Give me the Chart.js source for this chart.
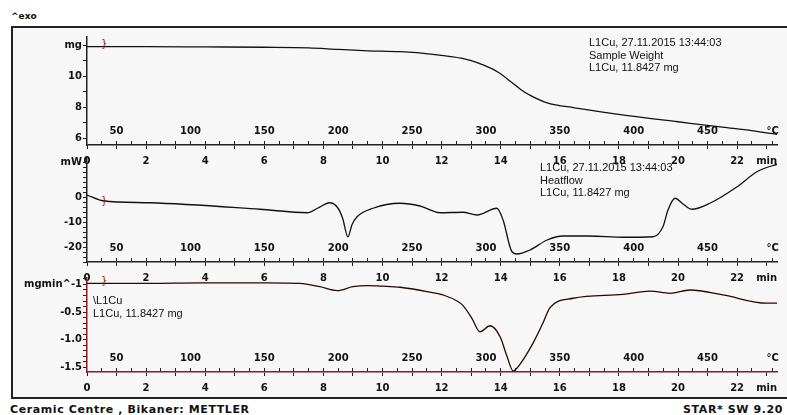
<!DOCTYPE html>
<html>
<head>
<meta charset="utf-8">
<script src="https://cdn.jsdelivr.net/npm/chart.js@4.4.0/dist/chart.umd.min.js"></script>
<style>
  body { margin: 0; width: 787px; height: 415px; overflow: hidden; background: #fff; position: relative; font-family: "DejaVu Sans", sans-serif; }
  #frame { position: absolute; left: 11px; top: 26px; width: 800px; height: 373px; border: 2px solid #222; background: #f7f7f7; box-sizing: border-box; }
  .panel { position: absolute; left: 0; }
  .note { position: absolute; font: 11px "Liberation Sans", sans-serif; line-height: 12.5px; color: #111; white-space: nowrap; }
  .mark { position: absolute; font: 10px "DejaVu Sans", sans-serif; color: #a01010; }
  #exo { position: absolute; left: 11px; top: 11px; font: bold 9px "DejaVu Sans", sans-serif; color: #111; }
  .foot { position: absolute; top: 403px; font: bold 11px "DejaVu Sans", sans-serif; letter-spacing: 0.6px; color: #111; white-space: nowrap; }
</style>
</head>
<body>
<div id="exo">^exo</div>
<div id="frame"></div>
<canvas id="tgaChart" class="panel" width="787" height="144" style="top:25px"></canvas>
<canvas id="dscChart" class="panel" width="787" height="140" style="top:146px"></canvas>
<canvas id="dtgChart" class="panel" width="787" height="130" style="top:266px"></canvas>

<div class="note" style="left:589px; top:36px">L1Cu, 27.11.2015 13:44:03<br>Sample Weight<br>L1Cu, 11.8427 mg</div>
<div class="note" style="left:540px; top:161px">L1Cu, 27.11.2015 13:44:03<br>Heatflow<br>L1Cu, 11.8427 mg</div>
<div class="note" style="left:93px; top:294px">\L1Cu<br>L1Cu, 11.8427 mg</div>
<div class="mark" style="left:101px; top:38px">}</div>
<div class="mark" style="left:101px; top:195px">}</div>
<div class="mark" style="left:101px; top:275px">}</div>

<div class="foot" style="left:10px">Ceramic Centre , Bikaner: METTLER</div>
<div class="foot" style="left:683px">STAR* SW 9.20</div>

<script>
// time axis (min) and temperature axis (°C) share the pixels: 30 °C at 0 min, 20 K/min
const T_START = 30;
const HEAT_RATE = 20;
const TIME_MAX = 23.35;

const timeTicks = [0, 1, 2, 3, 4, 5, 6, 7, 8, 9, 10, 11, 12, 13, 14, 15, 16, 17, 18, 19, 20, 21, 22, 23];
const tempTicks = [40, 50, 60, 70, 80, 90, 100, 110, 120, 130, 140, 150, 160, 170, 180, 190, 200, 210, 220, 230, 240,
  250, 260, 270, 280, 290, 300, 310, 320, 330, 340, 350, 360, 370, 380, 390, 400, 410, 420, 430, 440, 450, 460, 470, 480, 494];
const massTicks = [6, 7, 8, 9, 10, 11, 12];
const heatTicks = [-26, -24, -22, -20, -18, -16, -14, -12, -10, -8, -6, -4, -2, 0, 2, 4, 6, 8, 10, 12, 14];
const rateTicks = [-1.5, -1.4, -1.3, -1.2, -1.1, -1.0, -0.9, -0.8, -0.7, -0.6, -0.5, -0.4, -0.3, -0.2, -0.1, 0, 0.1];

// sample weight, mg
const tgaTime = [0, 2, 4, 6, 7.5, 8.5, 9.5, 10.6, 11.7, 12.7, 13.0, 13.4, 13.9, 14.4, 14.7, 15.0, 15.6, 16.5, 18.3, 20.0, 21.5, 22.5, 23.45];
const tgaMass = [11.9, 11.9, 11.88, 11.86, 11.82, 11.72, 11.63, 11.57, 11.4, 11.14, 10.99, 10.72, 10.26, 9.55, 9.1, 8.75, 8.25, 7.95, 7.45, 7.05, 6.7, 6.48, 6.2];

// heat flow, mW
const dscTime = [0, 0.54, 2.13, 5.85, 7.45, 7.8, 8.22, 8.49, 8.65, 8.83, 8.97, 9.14, 9.68, 10.59, 11.27, 11.95, 12.72, 13.2, 13.87,
  14.08, 14.38, 14.55, 14.99, 15.57, 16.1, 17.0, 18.14, 19.15, 19.49, 19.66, 19.9, 20.17, 20.47, 21.08, 22.0, 22.67, 23.45];
const dscFlow = [0.8, -1.5, -2.3, -4.9, -6.3, -4.5, -2.3, -4.4, -8.5, -15.9, -11, -7.9, -4.5, -2.5, -3.6, -6.3, -6.1, -7.2, -4.5,
  -9.2, -21.9, -22.8, -21.2, -17.2, -15.6, -15.6, -16.1, -15.9, -11.9, -5.2, -0.5, -2.8, -4.9, -2.5, 4.1, 10.1, 13.5];

// first derivative, mg/min
const dtgTime = [0, 2.13, 3.82, 6.09, 7.2, 7.88, 8.46, 9.0, 9.48, 10.0, 10.6, 11.5, 12.1, 12.52, 12.72, 13.03, 13.3, 13.64, 13.98,
  14.21, 14.42, 14.65, 15.09, 15.43, 15.67, 16.45, 18.14, 19.05, 19.73, 20.4, 21.52, 23.0, 23.45];
const dtgRate = [0.02, 0.02, 0.03, 0.03, 0.02, -0.04, -0.11, -0.04, -0.02, -0.03, -0.05, -0.13, -0.2, -0.3, -0.38, -0.62, -0.86, -0.75, -0.95,
  -1.3, -1.57, -1.45, -1.07, -0.7, -0.42, -0.25, -0.18, -0.12, -0.16, -0.1, -0.19, -0.34, -0.34];

const tickFont = { family: 'DejaVu Sans', size: 10, weight: 'bold' };

function makePanel(id, xs, ys, cfg) {
  const ctx = document.getElementById(id).getContext('2d');
  return new Chart(ctx, {
    type: 'line',
    data: {
      datasets: [{
        data: xs.map((x, i) => ({ x: x, y: ys[i] })),
        borderColor: cfg.color,
        borderWidth: 1.3,
        pointRadius: 0,
        cubicInterpolationMode: 'monotone',
        fill: false
      }]
    },
    options: {
      responsive: false,
      animation: false,
      layout: { padding: { top: 12, right: 10, bottom: 0, left: 0 } },
      plugins: { legend: { display: false }, tooltip: { enabled: false } },
      scales: {
        x: {
          type: 'linear',
          position: 'bottom',
          min: 0,
          max: TIME_MAX,
          afterBuildTicks: s => { s.ticks = timeTicks.map(v => ({ value: v })); },
          afterFit: s => { s.height = 24; },
          ticks: {
            autoSkip: false, maxRotation: 0, padding: 6, color: '#111', font: tickFont,
            callback: v => v === 23 ? 'min' : (v % 2 === 0 ? String(v) : '')
          },
          grid: { drawOnChartArea: false, tickLength: 4, tickColor: '#222' },
          border: { color: cfg.axis, width: 1.5 }
        },
        temp: {
          type: 'linear',
          axis: 'x',
          position: { y: cfg.min },
          min: T_START,
          max: T_START + HEAT_RATE * TIME_MAX,
          afterBuildTicks: s => { s.ticks = tempTicks.map(v => ({ value: v })); },
          ticks: {
            autoSkip: false, maxRotation: 0, padding: -16, color: '#111', font: tickFont,
            callback: v => v === 494 ? '°C' : (v % 50 === 0 ? String(v) : '')
          },
          grid: { drawOnChartArea: false, tickLength: -4, tickColor: '#222' },
          border: { display: false }
        },
        y: {
          position: 'left',
          min: cfg.min,
          max: cfg.max,
          afterBuildTicks: s => { s.ticks = cfg.ticks.map(v => ({ value: v })); },
          afterFit: s => { s.width = 87; },
          ticks: { autoSkip: false, padding: 1, color: '#111', font: tickFont, callback: cfg.label },
          grid: { drawOnChartArea: false, tickLength: 4, tickColor: '#222' },
          border: { color: cfg.axis, width: 1.5 }
        }
      }
    }
  });
}

makePanel('tgaChart', tgaTime, tgaMass, {
  min: 5.55, max: 12.52, ticks: massTicks, color: '#111', axis: '#222',
  label: v => v === 12 ? 'mg' : (v % 2 === 0 ? String(v) : '')
});

makePanel('dscChart', dscTime, dscFlow, {
  min: -26, max: 15.6, ticks: heatTicks, color: '#111', axis: '#222',
  label: v => v === 14 ? 'mW' : ((v === 0 || v === -10 || v === -20) ? String(v) : '')
});

makePanel('dtgChart', dtgTime, dtgRate, {
  min: -1.59, max: 0.118, ticks: rateTicks, color: '#2a0606', axis: '#8c1c1c',
  label: v => {
    if (Math.abs(v) < 1e-9) return 'mgmin^-1';
    const k = Math.round(v * 10);
    return k % 5 === 0 ? (k / 10).toFixed(1) : '';
  }
});
</script>
</body>
</html>
